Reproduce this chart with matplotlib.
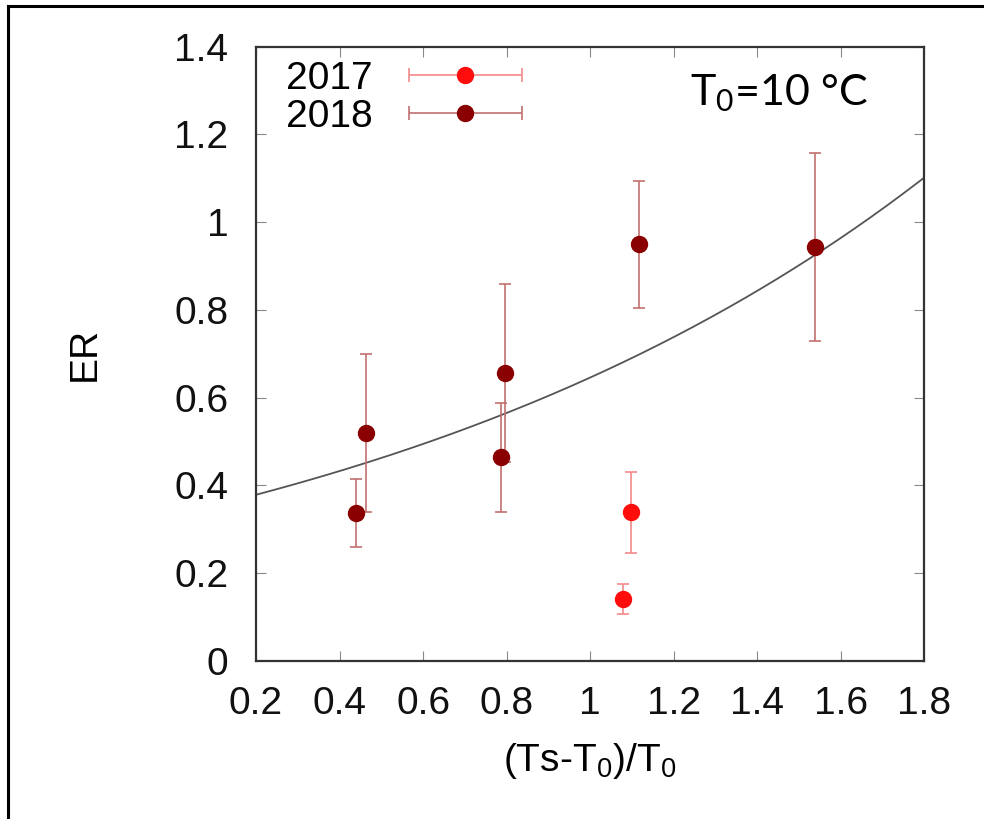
import matplotlib
matplotlib.use('Agg')
import matplotlib.pyplot as plt
import numpy as np
from matplotlib.legend_handler import HandlerErrorbar
from matplotlib.lines import Line2D

plt.rcParams['font.family'] = ['Liberation Sans', 'DejaVu Sans']

## DATA
# 2017 campaign
x_2017 = [1.079, 1.097]
er_2017 = [0.141, 0.338]
err_2017 = [0.034, 0.093]

# 2018 campaign
x_2018 = [0.439, 0.463, 0.787, 0.796, 1.118, 1.539]
er_2018 = [0.337, 0.519, 0.464, 0.656, 0.949, 0.944]
err_2018 = [0.077, 0.181, 0.124, 0.203, 0.145, 0.214]

# fitted curve ER = a*exp(b*x)
fit_a = 0.331
fit_b = 0.668

c17 = '#ff0d0d'
c18 = '#8a0000'
c17_err = '#f48a8a'
c18_err = '#c27070'


fig = plt.figure(figsize=(9.84, 8.19), dpi=100)
ax = fig.add_axes([0.2602, 0.1933, 0.6791, 0.7497])

# fit
xf = np.linspace(0.2, 1.8, 300)
ax.plot(xf, fit_a*np.exp(fit_b*xf), color='#555555', lw=1.3, zorder=2)

# data
ax.errorbar(x_2017, er_2017, yerr=err_2017, fmt='o', color=c17, ms=11.5,
            ecolor=c17_err, elinewidth=1.2, capsize=4, capthick=1.2, zorder=3)
ax.errorbar(x_2018, er_2018, yerr=err_2018, fmt='o', color=c18, ms=11.5,
            ecolor=c18_err, elinewidth=1.2, capsize=4, capthick=1.2, zorder=3)

# legend proxies with horizontal bars, gnuplot style
h17 = ax.errorbar([np.nan], [np.nan], xerr=[np.nan], fmt='o', color=c17, ms=11.5,
                  ecolor=c17_err, elinewidth=1.2, capsize=5, capthick=1.2)
h18 = ax.errorbar([np.nan], [np.nan], xerr=[np.nan], fmt='o', color=c18, ms=11.5,
                  ecolor=c18_err, elinewidth=1.2, capsize=5, capthick=1.2)
leg = ax.legend([h17, h18], ['2017', '2018'], loc='upper left',
                bbox_to_anchor=(0.045, 0.977), frameon=False, markerfirst=False,
                fontsize=28, handlelength=2.95, handletextpad=0.9,
                labelspacing=0.05, borderpad=0, borderaxespad=0,
                handler_map={type(h17): HandlerErrorbar(xerr_size=1.45)})

ax.text(0.65, 0.905, 'T$_\\mathregular{0}$=10 °C', transform=ax.transAxes,
        fontsize=31, family=['Lato', 'DejaVu Sans'], va='baseline', ha='left')

ax.set_xlim(0.2, 1.8)
ax.set_ylim(0, 1.4)
ax.set_xticks(np.arange(0.2, 1.81, 0.2))
ax.set_xticklabels(['0.2', '0.4', '0.6', '0.8', '1', '1.2', '1.4', '1.6', '1.8'])
ax.set_yticks(np.arange(0, 1.41, 0.2))
ax.set_yticklabels(['0', '0.2', '0.4', '0.6', '0.8', '1', '1.2', '1.4'])
ax.tick_params(direction='in', length=7, width=0.8, color='#888888',
               top=True, right=True, labelsize=28, labelcolor='#111111')
ax.tick_params(axis='x', pad=18)
ax.tick_params(axis='y', pad=20)
for s in ax.spines.values():
    s.set_linewidth(1.6)
    s.set_color('#333333')

ax.set_ylabel('ER', fontsize=28)
ax.yaxis.set_label_coords(-0.229, 0.5)
ax.set_xlabel('(Ts-T$_\\mathregular{0}$)/T$_\\mathregular{0}$', fontsize=28)
ax.xaxis.set_label_coords(0.5, -0.13)

# outer frame (top and left visible in the crop)
fig.add_artist(Line2D([0.0081, 1.0], [0.9927, 0.9927], color='black', lw=2.2,
                      transform=fig.transFigure))
fig.add_artist(Line2D([0.0081, 0.0081], [0.0, 0.9927], color='black', lw=2.2,
                      transform=fig.transFigure))

fig.savefig('out.png', dpi=100)
